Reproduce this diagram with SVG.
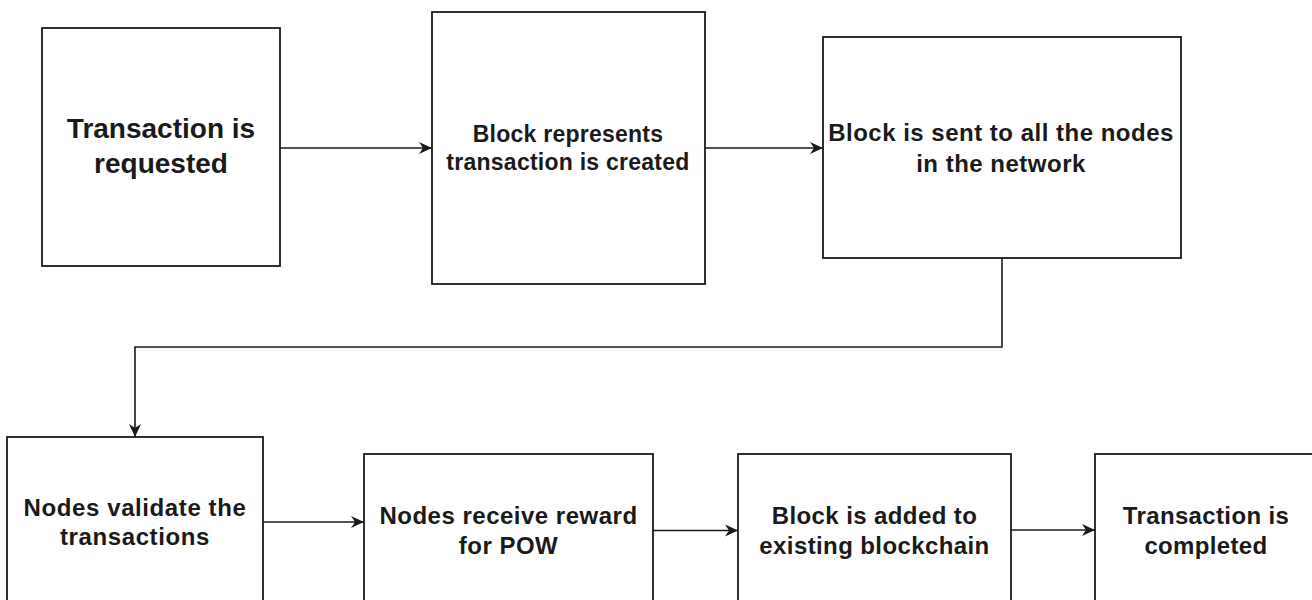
<svg xmlns="http://www.w3.org/2000/svg" width="1312" height="600" viewBox="0 0 1312 600">
<defs>
<style>
.box{fill:#ffffff;stroke:#1a1a1a;stroke-width:1.8}
.lbl{font-family:"Liberation Sans",Arial,sans-serif;font-weight:bold;fill:#1a1a1a;text-anchor:middle}
.edge{fill:none;stroke:#1a1a1a;stroke-width:1.6}
</style>
<marker id="arr" markerUnits="userSpaceOnUse" markerWidth="16" markerHeight="14" refX="13" refY="6" orient="auto" overflow="visible">
<path d="M0,0 L13,6 L0,12 L4,6 Z" fill="#1a1a1a"/>
</marker>
</defs>
<rect width="1312" height="600" fill="#ffffff"/>
<g id="n1">
<rect class="box" x="42" y="28" width="238" height="238"/>
<text class="lbl" font-size="28" x="161" y="138">Transaction is</text>
<text class="lbl" font-size="28" x="161" y="173">requested</text>
</g>
<g id="n2">
<rect class="box" x="432" y="12" width="273" height="272"/>
<text class="lbl" font-size="23" letter-spacing="0.25" x="568" y="141.5">Block represents</text>
<text class="lbl" font-size="23" letter-spacing="0.25" x="568" y="170">transaction is created</text>
</g>
<g id="n3">
<rect class="box" x="823" y="37" width="358" height="221"/>
<text class="lbl" font-size="24" letter-spacing="0.5" x="1001" y="140.5">Block is sent to all the nodes</text>
<text class="lbl" font-size="24" letter-spacing="0.5" x="1001" y="171.5">in the network</text>
</g>
<g id="n4">
<rect class="box" x="7" y="437" width="256" height="200"/>
<text class="lbl" font-size="24" letter-spacing="0.6" x="135" y="516">Nodes validate the</text>
<text class="lbl" font-size="24" letter-spacing="0.6" x="135" y="545">transactions</text>
</g>
<g id="n5">
<rect class="box" x="364" y="454" width="289" height="200"/>
<text class="lbl" font-size="24" letter-spacing="0.5" x="508.5" y="523.5">Nodes receive reward</text>
<text class="lbl" font-size="24" letter-spacing="0.5" x="508.5" y="553.5">for POW</text>
</g>
<g id="n6">
<rect class="box" x="738" y="454" width="273" height="200"/>
<text class="lbl" font-size="24" letter-spacing="0.4" x="874.5" y="524">Block is added to</text>
<text class="lbl" font-size="24" letter-spacing="0.4" x="874.5" y="554">existing blockchain</text>
</g>
<g id="n7">
<rect class="box" x="1095" y="454" width="222" height="200"/>
<text class="lbl" font-size="24" letter-spacing="0.35" x="1206" y="524">Transaction is</text>
<text class="lbl" font-size="24" letter-spacing="0.35" x="1206" y="554">completed</text>
</g>
<g id="connectors">
<path class="edge" d="M280,148 L432,148" marker-end="url(#arr)"/>
<path class="edge" d="M705,148 L823,148" marker-end="url(#arr)"/>
<path class="edge" d="M1002,258 L1002,347 L135,347 L135,437" marker-end="url(#arr)"/>
<path class="edge" d="M263,522 L364,522" marker-end="url(#arr)"/>
<path class="edge" d="M653,530.5 L738,530.5" marker-end="url(#arr)"/>
<path class="edge" d="M1011,530 L1095,530" marker-end="url(#arr)"/>
</g>
</svg>
